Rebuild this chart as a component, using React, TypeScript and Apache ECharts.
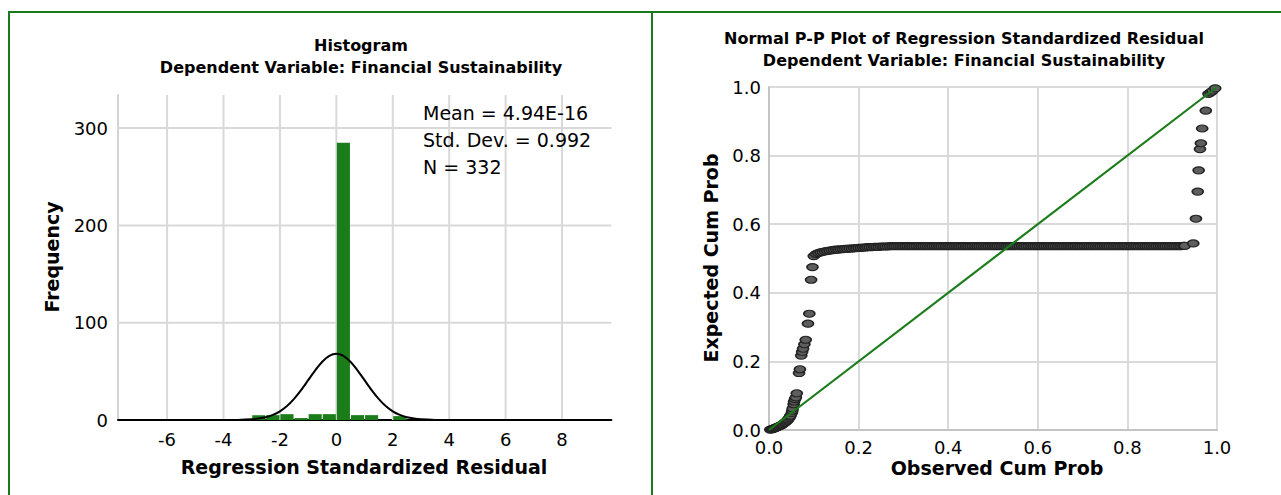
import React, { useEffect, useRef } from 'react';
import * as echarts from 'echarts';

const FONT = '"DejaVu Sans", Verdana, sans-serif';
const FRAME_GREEN = '#1a7a1a';
const BAR_GREEN = '#1a7d1a';

// ---------- Histogram data ----------
const histXRange = [-7.74, 9.75];
const histYRange = [0, 334];
const histXTicks = [-6, -4, -2, 0, 2, 4, 6, 8];
const histYTicks = [0, 100, 200, 300];
const histBinStarts = [-3, -2.5, -2, -1.5, -1, -0.5, 0, 0.5, 1, 2];
const histBinWidth = 0.5;
const histCounts = [5, 5, 6, 2, 6, 6, 285, 5, 5, 4];
// normal curve
const curveX = [-7.74, -4, -3.5, -3, -2.75, -2.5, -2.25, -2, -1.75, -1.5, -1.25, -1, -0.75, -0.5, -0.25, 0,
  0.25, 0.5, 0.75, 1, 1.25, 1.5, 1.75, 2, 2.25, 2.5, 2.75, 3, 3.5, 4, 9.75];
const curveY = [0, 0, 0.1, 0.7, 1.5, 2.8, 5.2, 8.9, 14.3, 21.7, 30.7, 40.9, 51.1, 59.9, 65.9, 68,
  65.9, 59.9, 51.1, 40.9, 30.7, 21.7, 14.3, 8.9, 5.2, 2.8, 1.5, 0.7, 0.1, 0, 0];
const histStats = ['Mean = 4.94E-16', 'Std. Dev. = 0.992', 'N = 332'];

// ---------- P-P plot data ----------
const ppTicks = [0, 0.2, 0.4, 0.6, 0.8, 1.0];
const ppLow = [
  [0.003, 0.001], [0.006, 0.002], [0.008, 0.003], [0.010, 0.004], [0.012, 0.005], [0.014, 0.006],
  [0.016, 0.007], [0.019, 0.009], [0.021, 0.010], [0.024, 0.012], [0.026, 0.013], [0.029, 0.015],
  [0.031, 0.017], [0.034, 0.020], [0.036, 0.022], [0.039, 0.025], [0.041, 0.028], [0.043, 0.031],
  [0.045, 0.035], [0.047, 0.039], [0.048, 0.042], [0.051, 0.050], [0.052, 0.056],
  [0.053, 0.063], [0.055, 0.075], [0.056, 0.083], [0.058, 0.090], [0.060, 0.095], [0.062, 0.107],
  [0.067, 0.166], [0.069, 0.177], [0.072, 0.217], [0.074, 0.228], [0.076, 0.237], [0.079, 0.250],
  [0.082, 0.263], [0.087, 0.310], [0.090, 0.339], [0.094, 0.438], [0.097, 0.475],
];
const ppBand = [
  [0.100, 0.507], [0.105, 0.513], [0.110, 0.516], [0.115, 0.518], [0.120, 0.519], [0.125, 0.521],
  [0.130, 0.522], [0.135, 0.523], [0.140, 0.524], [0.145, 0.525], [0.150, 0.526], [0.155, 0.526],
  [0.160, 0.527], [0.165, 0.527], [0.170, 0.528], [0.175, 0.528], [0.180, 0.529], [0.185, 0.529],
  [0.190, 0.530], [0.195, 0.530], [0.200, 0.531], [0.205, 0.531], [0.210, 0.532], [0.215, 0.532],
  [0.220, 0.533], [0.225, 0.533], [0.230, 0.533], [0.235, 0.534], [0.240, 0.534], [0.245, 0.534],
  [0.250, 0.535], [0.255, 0.535], [0.260, 0.535], [0.265, 0.535],
  [0.270, 0.536], [0.275, 0.536], [0.280, 0.536], [0.285, 0.536], [0.290, 0.536], [0.295, 0.536],
  [0.300, 0.536], [0.305, 0.536], [0.310, 0.536], [0.315, 0.536], [0.320, 0.536], [0.325, 0.536],
  [0.330, 0.536], [0.335, 0.536], [0.340, 0.536], [0.345, 0.536], [0.350, 0.536], [0.355, 0.536],
  [0.360, 0.536], [0.365, 0.536], [0.370, 0.536], [0.375, 0.536], [0.380, 0.536], [0.385, 0.536],
  [0.390, 0.536], [0.395, 0.536], [0.400, 0.536], [0.405, 0.536], [0.410, 0.536], [0.415, 0.536],
  [0.420, 0.536], [0.425, 0.536], [0.430, 0.536], [0.435, 0.536], [0.440, 0.536], [0.445, 0.536],
  [0.450, 0.536], [0.455, 0.536], [0.460, 0.536], [0.465, 0.536], [0.470, 0.536], [0.475, 0.536],
  [0.480, 0.536], [0.485, 0.536], [0.490, 0.536], [0.495, 0.536], [0.500, 0.536], [0.505, 0.536],
  [0.510, 0.536], [0.515, 0.536], [0.520, 0.536], [0.525, 0.536], [0.530, 0.536], [0.535, 0.536],
  [0.540, 0.536], [0.545, 0.536], [0.550, 0.536], [0.555, 0.536], [0.560, 0.536], [0.565, 0.536],
  [0.570, 0.536], [0.575, 0.536], [0.580, 0.536], [0.585, 0.536], [0.590, 0.536], [0.595, 0.536],
  [0.600, 0.536], [0.605, 0.536], [0.610, 0.536], [0.615, 0.536], [0.620, 0.536], [0.625, 0.536],
  [0.630, 0.536], [0.635, 0.536], [0.640, 0.536], [0.645, 0.536], [0.650, 0.536], [0.655, 0.536],
  [0.660, 0.536], [0.665, 0.536], [0.670, 0.536], [0.675, 0.536], [0.680, 0.536], [0.685, 0.536],
  [0.690, 0.536], [0.695, 0.536], [0.700, 0.536], [0.705, 0.536], [0.710, 0.536], [0.715, 0.536],
  [0.720, 0.536], [0.725, 0.536], [0.730, 0.536], [0.735, 0.536], [0.740, 0.536], [0.745, 0.536],
  [0.750, 0.536], [0.755, 0.536], [0.760, 0.536], [0.765, 0.536], [0.770, 0.536], [0.775, 0.536],
  [0.780, 0.536], [0.785, 0.536], [0.790, 0.536], [0.795, 0.536], [0.800, 0.536], [0.805, 0.536],
  [0.810, 0.536], [0.815, 0.536], [0.820, 0.536], [0.825, 0.536], [0.830, 0.536], [0.835, 0.536],
  [0.840, 0.536], [0.845, 0.536], [0.850, 0.536], [0.855, 0.536], [0.860, 0.536], [0.865, 0.536],
  [0.870, 0.536], [0.875, 0.536], [0.880, 0.536], [0.885, 0.536], [0.890, 0.536], [0.895, 0.536],
  [0.900, 0.536], [0.905, 0.536], [0.910, 0.536], [0.915, 0.536], [0.920, 0.536], [0.925, 0.537],
  [0.928, 0.537],
];
const ppHigh = [
  [0.947, 0.544], [0.953, 0.616], [0.957, 0.695], [0.959, 0.757], [0.962, 0.819], [0.964, 0.836],
  [0.967, 0.879], [0.975, 0.931], [0.981, 0.980], [0.986, 0.984], [0.990, 0.989], [0.996, 0.996],
];
const ppRef = [[0, 0], [1, 1]];

const ELLIPSE = 'path://M0 5A5 5 0 1 1 10 5A5 5 0 1 1 0 5Z';

function txt(x: number, y: number, text: string, size: number, bold: boolean, align = 'center', rotation = 0) {
  return {
    type: 'text',
    x,
    y,
    rotation,
    silent: true,
    z: 5,
    style: {
      text,
      fill: '#000',
      fontSize: size,
      fontWeight: bold ? 'bold' : 'normal',
      fontFamily: FONT,
      textAlign: align,
      align,
      textVerticalAlign: 'middle',
      verticalAlign: 'middle',
    },
  };
}

export default function App() {
  const ref = useRef<HTMLDivElement>(null);

  useEffect(() => {
    document.body.style.margin = '0';
    document.body.style.overflow = 'hidden';
    if (!ref.current) return;
    const chart = echarts.init(ref.current, undefined, { renderer: 'svg' });

    const labelStyle = { fontSize: 18, fontFamily: FONT, color: '#000' };

    const option: any = {
      animation: false,
      backgroundColor: '#fff',
      grid: [
        { left: 118, top: 95, width: 493.4, height: 325, containLabel: false, outerBoundsMode: 'none' },
        { left: 769, top: 87, width: 448, height: 343, containLabel: false, outerBoundsMode: 'none' },
      ],
      xAxis: [
        {
          gridIndex: 0, type: 'value', min: histXRange[0], max: histXRange[1],
          axisLine: { show: true, onZero: false, lineStyle: { color: '#000', width: 2 } },
          axisTick: { show: false },
          splitLine: { show: false },
          axisLabel: { ...labelStyle, margin: 10, customValues: histXTicks, showMinLabel: true, showMaxLabel: true },
        },
        {
          gridIndex: 1, type: 'value', min: 0, max: 1, interval: 0.2,
          axisLine: { show: true, onZero: false, lineStyle: { color: '#c4c4c4', width: 2 } },
          axisTick: { show: false },
          splitLine: { show: true, lineStyle: { color: '#dadada', width: 2 } },
          axisLabel: { ...labelStyle, margin: 8, customValues: ppTicks, formatter: (v: number) => v.toFixed(1) },
        },
      ],
      yAxis: [
        {
          gridIndex: 0, type: 'value', min: histYRange[0], max: histYRange[1],
          axisLine: { show: true, onZero: false, lineStyle: { color: '#d4d4d4', width: 2 } },
          axisTick: { show: false },
          splitLine: { show: false },
          axisLabel: { ...labelStyle, margin: 10, customValues: histYTicks },
        },
        {
          gridIndex: 1, type: 'value', min: 0, max: 1, interval: 0.2,
          axisLine: { show: true, onZero: false, lineStyle: { color: '#c4c4c4', width: 2 } },
          axisTick: { show: false },
          splitLine: { show: true, lineStyle: { color: '#dadada', width: 2 } },
          axisLabel: { ...labelStyle, margin: 8, customValues: ppTicks, formatter: (v: number) => v.toFixed(1) },
        },
      ],
      series: [
        {
          type: 'custom', xAxisIndex: 0, yAxisIndex: 0, silent: true, z: 1,
          data: histXTicks.map((v) => [v, 0]),
          encode: { x: 0, y: 1 },
          renderItem: (params: any, api: any) => {
            const v = api.value(0);
            const a = api.coord([v, histYRange[0]]);
            const b = api.coord([v, histYRange[1]]);
            return { type: 'line', shape: { x1: a[0], y1: a[1], x2: b[0], y2: b[1] }, style: { stroke: '#d9d9d9', lineWidth: 2 } };
          },
        },
        {
          type: 'custom', xAxisIndex: 0, yAxisIndex: 0, silent: true, z: 1,
          data: histYTicks.filter((v) => v > 0).map((v) => [0, v]),
          encode: { x: 0, y: 1 },
          renderItem: (params: any, api: any) => {
            const v = api.value(1);
            const a = api.coord([histXRange[0], v]);
            const b = api.coord([histXRange[1], v]);
            return { type: 'line', shape: { x1: a[0], y1: a[1], x2: b[0], y2: b[1] }, style: { stroke: '#d9d9d9', lineWidth: 2 } };
          },
        },
        {
          type: 'custom', xAxisIndex: 0, yAxisIndex: 0, silent: true, z: 2,
          data: histBinStarts.map((s, i) => [s, s + histBinWidth, histCounts[i]]),
          encode: { x: [0, 1], y: 2 },
          renderItem: (params: any, api: any) => {
            const tl = api.coord([api.value(0), api.value(2)]);
            const br = api.coord([api.value(1), 0]);
            return {
              type: 'rect',
              shape: { x: tl[0] + 0.5, y: tl[1], width: br[0] - tl[0] - 1, height: br[1] - tl[1] },
              style: { fill: BAR_GREEN },
            };
          },
        },
        {
          type: 'line', xAxisIndex: 0, yAxisIndex: 0, z: 3, silent: true, clip: false,
          data: curveX.map((x, i) => [x, curveY[i]]),
          showSymbol: false, symbol: 'none', smooth: 0.3,
          lineStyle: { color: '#000', width: 2 },
        },
        {
          type: 'scatter', xAxisIndex: 1, yAxisIndex: 1, z: 2, silent: true, clip: false,
          data: [...ppLow, ...ppBand, ...ppHigh],
          symbol: ELLIPSE, symbolSize: [11, 7],
          itemStyle: { color: '#5e5e5e', borderColor: '#232323', borderWidth: 1.4, opacity: 1 },
        },
        {
          type: 'line', xAxisIndex: 1, yAxisIndex: 1, z: 3, silent: true, clip: false,
          data: ppRef, showSymbol: false, symbol: 'none',
          lineStyle: { color: '#1c7c1c', width: 2.2 },
        },
      ],
      graphic: [
        { type: 'line', silent: true, shape: { x1: 8, y1: 12, x2: 1281, y2: 12 }, style: { stroke: FRAME_GREEN, lineWidth: 2 } },
        { type: 'line', silent: true, shape: { x1: 9, y1: 12, x2: 9, y2: 495 }, style: { stroke: FRAME_GREEN, lineWidth: 2 } },
        { type: 'line', silent: true, shape: { x1: 652, y1: 12, x2: 652, y2: 495 }, style: { stroke: FRAME_GREEN, lineWidth: 2 } },
        txt(361, 45, 'Histogram', 16, true),
        txt(361, 67, 'Dependent Variable: Financial Sustainability', 16, true),
        txt(964, 38, 'Normal P-P Plot of Regression Standardized Residual', 16, true),
        txt(964, 60, 'Dependent Variable: Financial Sustainability', 16, true),
        txt(423, 113, histStats[0], 19, false, 'left'),
        txt(423, 140, histStats[1], 19, false, 'left'),
        txt(423, 167, histStats[2], 19, false, 'left'),
        txt(364, 467, 'Regression Standardized Residual', 19, true),
        txt(52, 257, 'Frequency', 19, true, 'center', Math.PI / 2),
        txt(997, 468, 'Observed Cum Prob', 19, true),
        txt(711, 258, 'Expected Cum Prob', 19, true, 'center', Math.PI / 2),
      ],
    };

    chart.setOption(option);
    return () => {
      chart.dispose();
    };
  }, []);

  return <div ref={ref} style={{ width: 1281, height: 495 }} />;
}
